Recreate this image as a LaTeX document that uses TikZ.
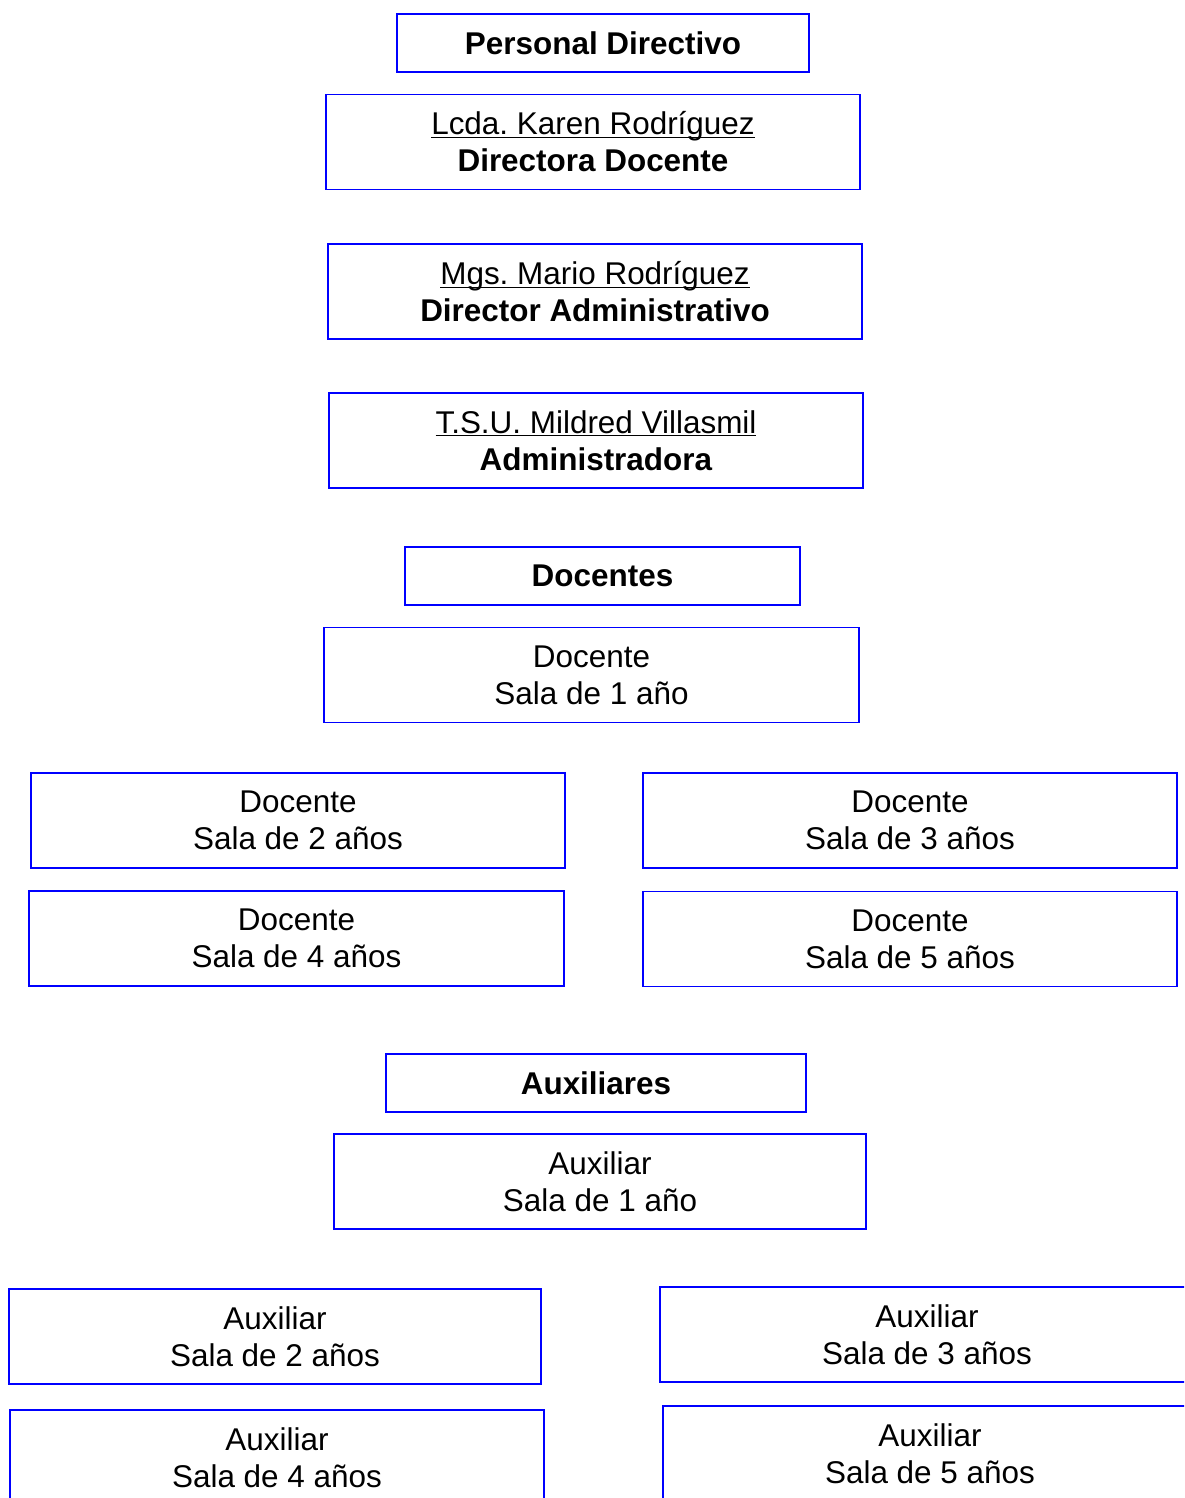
\documentclass[tikz,border=0pt]{standalone}
\usepackage{fontspec}
\setmainfont{Liberation Sans}
\frenchspacing
\newcommand{\ulname}[1]{\underline{\smash{#1}}\vphantom{#1}}
\tikzset{
  staffbox/.style={draw=blue, line width=1.1pt, inner sep=0pt, align=center,
    minimum width=10.68cm, minimum height=1.9cm,
    font=\fontsize{17.9}{21}\selectfont},
  headbox/.style={staffbox, minimum height=1.16cm, font=\fontsize{17.9}{21}\selectfont\bfseries}
}
\begin{document}
\begin{tikzpicture}[x=0.02cm, y=-0.02cm]
% Page size (pixels of the sheet)
\useasboundingbox (0, 0) rectangle (1184, 1498);
\clip (0, 0) rectangle (1184, 1498);

% Personal directivo
\node[headbox, minimum width=8.24cm] (personal) at (603, 43) {Personal Directivo};
\node[staffbox] (directora) at (593, 142) {\ulname{Lcda. Karen Rodríguez}\\\textbf{Directora Docente}};
\node[staffbox] (director) at (595, 291.5) {\ulname{Mgs. Mario Rodríguez}\\\textbf{Director Administrativo}};
\node[staffbox] (admin) at (596, 440.5) {\ulname{T.S.U. Mildred Villasmil}\\\textbf{Administradora}};

% Docentes
\node[headbox, minimum width=7.9cm] (docentes) at (602.5, 576) {Docentes};
\node[staffbox, minimum width=10.7cm] (doc1) at (591.5, 675) {Docente\\Sala de 1 año};
\node[staffbox] (doc2) at (298, 820.5) {Docente\\Sala de 2 años};
\node[staffbox] (doc3) at (910, 820.5) {Docente\\Sala de 3 años};
\node[staffbox, minimum width=10.7cm] (doc4) at (296.5, 938.5) {Docente\\Sala de 4 años};
\node[staffbox] (doc5) at (910, 939) {Docente\\Sala de 5 años};

% Auxiliares
\node[headbox, minimum width=8.4cm] (auxiliares) at (596, 1083) {Auxiliares};
\node[staffbox, minimum width=10.64cm] (aux1) at (600, 1181.5) {Auxiliar\\Sala de 1 año};
\node[staffbox, minimum width=10.64cm] (aux2) at (275, 1336.5) {Auxiliar\\Sala de 2 años};
\node[staffbox] (aux3) at (927, 1334.5) {Auxiliar\\Sala de 3 años};
\node[staffbox] (aux4) at (277, 1457.5) {Auxiliar\\Sala de 4 años};
\node[staffbox] (aux5) at (930, 1453.5) {Auxiliar\\Sala de 5 años};
\end{tikzpicture}
\end{document}
